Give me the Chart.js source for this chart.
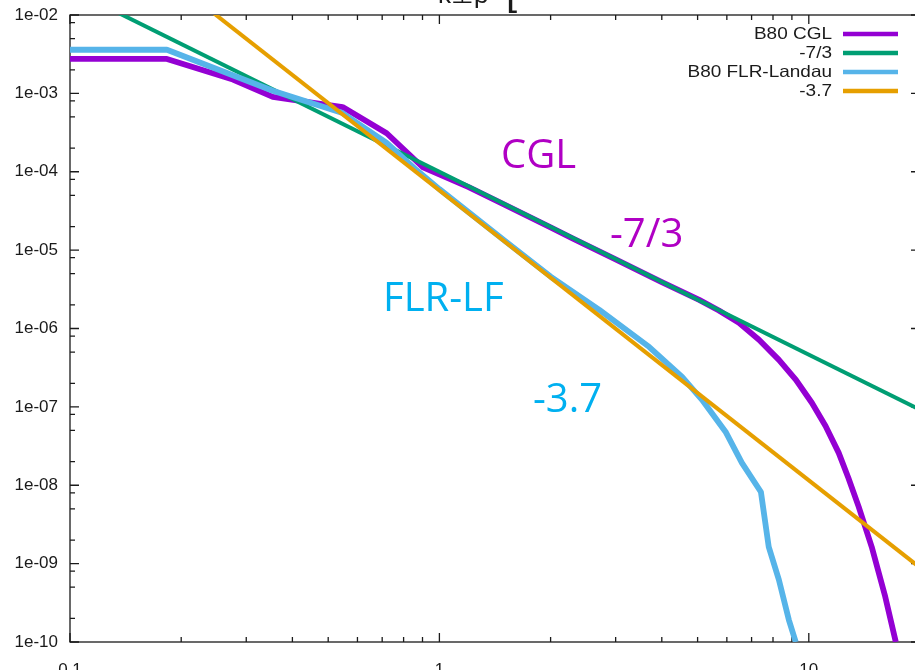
<!DOCTYPE html>
<html><head><meta charset="utf-8">
<script src="https://cdn.jsdelivr.net/npm/chart.js@4/dist/chart.umd.min.js"></script>
<style>
html,body{margin:0;padding:0;background:#fff;overflow:hidden;}
#wrap{width:915px;height:670px;overflow:hidden;position:relative;background:#fff;}
canvas{display:block;}
</style>
</head><body><div id="wrap"><canvas id="c" width="940" height="670"></canvas></div>
<script>
// ---- data ----
const xCGL = [0.1, 0.183, 0.276, 0.354, 0.547, 0.72, 0.90, 1.2, 1.5, 2.0, 2.3, 3.0, 4.0, 5.05, 5.71, 6.47, 7.33, 8.3, 9.23, 10.2, 11.1, 12.05, 12.8, 13.65, 14.8, 16.1, 17.2];
const yCGL = [2.75e-3, 2.75e-3, 1.5e-3, 9.0e-4, 6.7e-4, 3.1e-4, 1.15e-4, 6.35e-5, 3.8e-5, 1.95e-5, 1.4e-5, 7.6e-6, 3.9e-6, 2.32e-6, 1.7e-6, 1.18e-6, 7.2e-7, 3.98e-7, 2.21e-7, 1.12e-7, 5.7e-8, 2.59e-8, 1.24e-8, 5.3e-9, 1.64e-9, 3.8e-10, 1.0e-10];

const xFLR = [0.1, 0.183, 0.354, 0.547, 0.72, 0.867, 1.0, 1.5, 2.0, 2.71, 3.7, 4.54, 5.14, 5.97, 6.59, 7.42, 7.79, 8.3, 8.83, 9.22];
const yFLR = [3.6e-3, 3.6e-3, 1.08e-3, 5.6e-4, 2.33e-4, 1.05e-4, 6.0e-5, 1.33e-5, 4.6e-6, 1.73e-6, 5.8e-7, 2.41e-7, 1.23e-7, 4.7e-8, 1.93e-8, 8.2e-9, 1.64e-9, 6.2e-10, 1.92e-10, 1.0e-10];

const xFit73 = [0.1, 20];
const yFit73 = [2.15e-2, 9.2e-8];
const xFit37 = [0.1, 20];
const yFit37 = [2.9e-1, 8.9e-10];

const seriesLabels = ['B80 CGL', '-7/3', 'B80 FLR-Landau', '-3.7'];

const xTicks = [0.1, 1, 10];
const xTickLabels = ['0.1', '1', '10'];
const yTicks = [1e-10, 1e-9, 1e-8, 1e-7, 1e-6, 1e-5, 1e-4, 1e-3, 1e-2];
const yTickLabels = ['1e-10', '1e-09', '1e-08', '1e-07', '1e-06', '1e-05', '1e-04', '1e-03', '1e-02'];
const xMinorMant = [2, 3, 4, 5, 6, 7, 8, 9];
const yMinorMant = [2, 5, 8];

const pts = (xs, ys) => xs.map((x, i) => ({x: x, y: ys[i]}));

const COLORS = ['#9400d3', '#009e73', '#56b4e9', '#e69f00'];
const WIDTHS = [5.8, 4, 5.8, 4];

const framePlugin = {
  id: 'frame',
  beforeDatasetsDraw(chart) {
    const ctx = chart.ctx, a = chart.chartArea;
    const xs = chart.scales.x, ys = chart.scales.y;
    ctx.save();
    ctx.strokeStyle = '#1a1a1a';
    ctx.lineWidth = 1.3;
    ctx.strokeRect(a.left, a.top, a.right - a.left, a.bottom - a.top);
    const MAJ = 9, MIN = 5;
    ctx.beginPath();
    for (let e = -1; e <= 1; e++) {
      const base = Math.pow(10, e);
      const px = xs.getPixelForValue(base);
      if (base >= xs.min && base <= xs.max) {
        ctx.moveTo(px, a.bottom); ctx.lineTo(px, a.bottom - MAJ);
        ctx.moveTo(px, a.top); ctx.lineTo(px, a.top + MAJ);
      }
      xMinorMant.forEach(m => {
        const v = m * base;
        if (v > xs.min && v < xs.max) {
          const p = xs.getPixelForValue(v);
          ctx.moveTo(p, a.bottom); ctx.lineTo(p, a.bottom - MIN);
          ctx.moveTo(p, a.top); ctx.lineTo(p, a.top + MIN);
        }
      });
    }
    for (let e = -10; e <= -2; e++) {
      const base = Math.pow(10, e);
      const py = ys.getPixelForValue(base);
      ctx.moveTo(a.left, py); ctx.lineTo(a.left + MAJ, py);
      ctx.moveTo(a.right, py); ctx.lineTo(a.right - MAJ, py);
      yMinorMant.forEach(m => {
        const v = m * base;
        if (v > ys.min && v < ys.max) {
          const p = ys.getPixelForValue(v);
          ctx.moveTo(a.left, p); ctx.lineTo(a.left + MIN, p);
          ctx.moveTo(a.right, p); ctx.lineTo(a.right - MIN, p);
        }
      });
    }
    ctx.stroke();
    ctx.restore();
  },
  afterDraw(chart) {
    const ctx = chart.ctx;
    ctx.save();
    chart.data.datasets.forEach((ds, i) => {
      const y = 34 + i * 19;
      ctx.save();
      ctx.translate(832, y);
      ctx.scale(1.15, 1);
      ctx.font = '16.5px "Liberation Sans", Arial, sans-serif';
      ctx.fillStyle = '#1a1a1a';
      ctx.textAlign = 'right';
      ctx.textBaseline = 'middle';
      ctx.fillText(ds.label, 0, 0);
      ctx.restore();
      ctx.strokeStyle = ds.borderColor;
      ctx.lineWidth = 4.5;
      ctx.beginPath();
      ctx.moveTo(843, y); ctx.lineTo(898, y);
      ctx.stroke();
    });
    ctx.font = '40px "Open Sans", sans-serif';
    ctx.textAlign = 'left';
    ctx.textBaseline = 'alphabetic';
    ctx.fillStyle = '#b000c4';
    ctx.fillText('CGL', 501, 168);
    ctx.fillText('-7/3', 610, 247);
    ctx.fillStyle = '#00b0f0';
    ctx.fillText('FLR-LF', 383, 311);
    ctx.fillText('-3.7', 533, 412);
    ctx.fillStyle = '#1a1a1a';
    ctx.font = '26px "Liberation Sans", Arial, sans-serif';
    ctx.fillText('k\u22A5\u03C1', 438, 3);
    ctx.font = '40px "Liberation Sans", Arial, sans-serif';
    ctx.fillText('[', 506, 5);
    ctx.restore();
  }
};

new Chart(document.getElementById('c'), {
  type: 'line',
  data: {
    datasets: [
      {label: seriesLabels[0], data: pts(xCGL, yCGL), borderColor: COLORS[0], borderWidth: WIDTHS[0], order: 4},
      {label: seriesLabels[1], data: pts(xFit73, yFit73), borderColor: COLORS[1], borderWidth: WIDTHS[1], order: 3},
      {label: seriesLabels[2], data: pts(xFLR, yFLR), borderColor: COLORS[2], borderWidth: WIDTHS[2], order: 2},
      {label: seriesLabels[3], data: pts(xFit37, yFit37), borderColor: COLORS[3], borderWidth: WIDTHS[3], order: 1}
    ].map(d => Object.assign(d, {pointRadius: 0, tension: 0, fill: false, borderJoinStyle: 'round', borderCapStyle: 'butt'}))
  },
  options: {
    responsive: false,
    animation: false,
    devicePixelRatio: 1,
    layout: {padding: {top: 15, right: 20, left: 0, bottom: 0}},
    plugins: {legend: {display: false}, tooltip: {enabled: false}, title: {display: false}},
    scales: {
      x: {
        type: 'logarithmic', min: 0.1, max: 20,
        grid: {display: false, drawTicks: false},
        border: {display: false},
        afterBuildTicks: s => { s.ticks = xTicks.map(v => ({value: v})); },
        afterFit: s => { s.height = 28; s.paddingLeft = 0; s.paddingRight = 0; },
        ticks: {
          autoSkip: false, maxRotation: 0, padding: 18, color: '#1a1a1a',
          font: {family: '"Liberation Sans", Arial, sans-serif', size: 17},
          callback: (v, i) => xTickLabels[i]
        }
      },
      y: {
        type: 'logarithmic', min: 1e-10, max: 1e-2,
        grid: {display: false, drawTicks: false},
        border: {display: false},
        afterBuildTicks: s => { s.ticks = yTicks.map(v => ({value: v})); },
        afterFit: s => { s.width = 70; s.paddingTop = 0; s.paddingBottom = 0; },
        ticks: {
          autoSkip: false, padding: 12, color: '#1a1a1a',
          font: {family: '"Liberation Sans", Arial, sans-serif', size: 17},
          callback: (v, i) => yTickLabels[i]
        }
      }
    }
  },
  plugins: [framePlugin]
});
</script>
</body></html>
